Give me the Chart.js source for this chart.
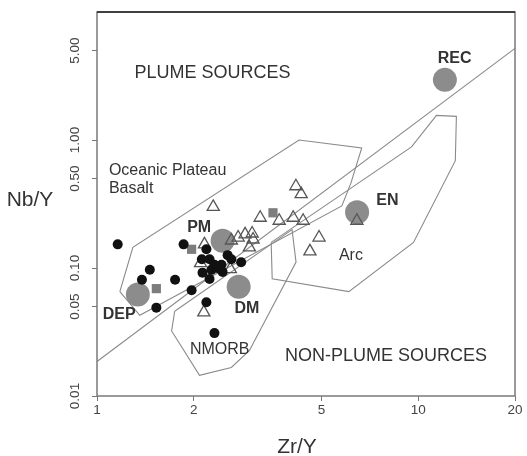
<!DOCTYPE html>
<html>
<head>
<meta charset="utf-8">
<script src="https://cdn.jsdelivr.net/npm/chart.js@4.4.1/dist/chart.umd.min.js"></script>
<style>
  html, body { margin: 0; padding: 0; background: #fff; }
</style>
</head>
<body>
<canvas id="myChart" width="527" height="456"></canvas>
<script>
// axis ticks
const xTicks = [1, 2, 5, 10, 20];
const yTicks = [0.01, 0.05, 0.1, 0.5, 1, 5];
const yTickLabels = ['0.01', '0.05', '0.10', '0.50', '1.00', '5.00'];

// basalt samples (filled circles)
const basaltZr = [1.16, 1.46, 1.38, 1.75, 1.86, 1.53, 1.97, 2.19, 2.32, 2.19, 2.12, 2.24, 2.55, 2.32, 2.44, 2.13, 2.27, 2.46, 2.62, 2.81, 2.24, 2.37];
const basaltNb = [0.153, 0.097, 0.081, 0.081, 0.153, 0.049, 0.067, 0.054, 0.031, 0.140, 0.117, 0.117, 0.126, 0.106, 0.106, 0.092, 0.097, 0.093, 0.117, 0.111, 0.082, 0.100];

// grey squares
const squareZr = [1.97, 1.53, 3.53];
const squareNb = [0.140, 0.069, 0.270];

// open triangles
const triZr = [2.30, 2.16, 2.62, 2.75, 2.89, 3.04, 2.98, 2.60, 2.10, 2.15, 3.22, 3.69, 4.08, 4.38, 4.16, 4.32, 4.91, 4.60, 6.44, 3.06];
const triNb = [0.300, 0.153, 0.164, 0.173, 0.183, 0.186, 0.145, 0.098, 0.109, 0.045, 0.247, 0.234, 0.247, 0.234, 0.435, 0.378, 0.173, 0.135, 0.234, 0.167];

// mantle components (big grey circles)
const sourceNames = ['DEP', 'PM', 'DM', 'EN', 'REC'];
const sourceZr = [1.34, 2.46, 2.76, 6.45, 12.1];
const sourceNb = [0.062, 0.163, 0.0714, 0.273, 2.95];

// plume / non-plume boundary
const lineZr = [1, 20];
const lineNb = [0.0186, 5.2];

// fields
const opbZr = [1.178, 1.293, 4.255, 6.668, 6.166, 5.782, 1.359, 1.178];
const opbNb = [0.0654, 0.1451, 1.0, 0.868, 0.4585, 0.3052, 0.0427, 0.0654];
const morbZr = [1.745, 4.047, 4.164, 2.979, 2.619, 2.085, 1.707, 1.745];
const morbNb = [0.0459, 0.1995, 0.1112, 0.0226, 0.0167, 0.0145, 0.0322, 0.0459];
const arcZr = [3.484, 9.528, 11.39, 13.14, 13.04, 9.663, 6.079, 3.510, 3.484];
const arcNb = [0.1585, 0.8836, 1.557, 1.530, 0.6895, 0.1585, 0.0654, 0.0823, 0.1585];

// text placed on the diagram (data coordinates)
const notes = [
    { text: 'PLUME SOURCES', x: 2.29, y: 3.34, bold: false, size: 18, align: 'center' },
    { text: 'NON-PLUME SOURCES', x: 7.94, y: 0.0207, bold: false, size: 18, align: 'center' },
    { text: 'Oceanic Plateau', x: 1.089, y: 0.580, bold: false, size: 16, align: 'left' },
    { text: 'Basalt', x: 1.089, y: 0.4147, bold: false, size: 16, align: 'left' },
    { text: 'NMORB', x: 2.41, y: 0.0230, bold: false, size: 16, align: 'center' },
    { text: 'Arc', x: 6.17, y: 0.1252, bold: false, size: 16, align: 'center' },
    { text: 'PM', x: 2.08, y: 0.2067, bold: true, size: 16, align: 'center' },
    { text: 'DEP', x: 1.172, y: 0.0433, bold: true, size: 16, align: 'center' },
    { text: 'DM', x: 2.93, y: 0.0486, bold: true, size: 16, align: 'center' },
    { text: 'EN', x: 8.01, y: 0.3378, bold: true, size: 16, align: 'center' },
    { text: 'REC', x: 12.98, y: 4.328, bold: true, size: 16, align: 'center' }
];

const FONT = '"Liberation Sans", Arial, sans-serif';
const pts = (xs, ys) => xs.map((x, i) => ({ x: x, y: ys[i] }));

const outline = (label, xs, ys) => ({
    label: label,
    data: pts(xs, ys),
    showLine: true,
    borderColor: '#8a8a8a',
    borderWidth: 1.1,
    pointRadius: 0,
    fill: false,
    tension: 0,
    order: 5
});

const decorPlugin = {
    id: 'decor',
    afterDatasetsDraw(chart) {
        const ctx = chart.ctx;
        const xs = chart.scales.x, ys = chart.scales.y;
        ctx.save();
        ctx.fillStyle = '#333';
        ctx.textBaseline = 'middle';
        notes.forEach(n => {
            ctx.font = (n.bold ? 'bold ' : '') + n.size + 'px ' + FONT;
            ctx.textAlign = n.align;
            ctx.fillText(n.text, xs.getPixelForValue(n.x), ys.getPixelForValue(n.y));
        });
        ctx.restore();
    },
    afterDraw(chart) {
        const ctx = chart.ctx;
        const a = chart.chartArea;
        const ys = chart.scales.y;
        ctx.save();
        // frame
        ctx.strokeStyle = '#7a7a7a';
        ctx.lineWidth = 1.5;
        ctx.strokeRect(a.left, a.top, a.right - a.left, a.bottom - a.top);
        ctx.strokeStyle = '#222';
        ctx.beginPath();
        ctx.moveTo(a.left, a.top);
        ctx.lineTo(a.right, a.top);
        ctx.stroke();
        // y tick labels, rotated
        ctx.fillStyle = '#444';
        ctx.font = '13.5px ' + FONT;
        ctx.textAlign = 'center';
        ctx.textBaseline = 'middle';
        yTicks.forEach((v, i) => {
            ctx.save();
            ctx.translate(75, ys.getPixelForValue(v));
            ctx.rotate(-Math.PI / 2);
            ctx.fillText(yTickLabels[i], 0, 0);
            ctx.restore();
        });
        // axis titles
        ctx.fillStyle = '#333';
        ctx.font = '21px ' + FONT;
        ctx.fillText('Nb/Y', 30, 200);
        ctx.fillText('Zr/Y', (a.left + a.right) / 2 - 9, 447);
        ctx.restore();
    }
};

const ctx = document.getElementById('myChart');
new Chart(ctx, {
    type: 'scatter',
    data: {
        datasets: [
            {
                label: 'basalts',
                data: pts(basaltZr, basaltNb),
                pointRadius: 5,
                backgroundColor: '#111',
                borderWidth: 0,
                order: 1
            },
            {
                label: 'squares',
                data: pts(squareZr, squareNb),
                pointStyle: 'rect',
                pointRadius: 6.5,
                backgroundColor: '#7d7d7d',
                borderWidth: 0,
                order: 2
            },
            {
                label: 'triangles',
                data: pts(triZr, triNb),
                pointStyle: 'triangle',
                pointRadius: 7,
                backgroundColor: 'rgba(0,0,0,0)',
                borderColor: '#555',
                borderWidth: 1.3,
                order: 3
            },
            {
                label: 'sources',
                data: pts(sourceZr, sourceNb),
                pointRadius: 12,
                backgroundColor: '#8c8c8c',
                borderWidth: 0,
                order: 4
            },
            outline('boundary', lineZr, lineNb),
            outline('OPB', opbZr, opbNb),
            outline('NMORB', morbZr, morbNb),
            outline('Arc', arcZr, arcNb)
        ]
    },
    options: {
        responsive: false,
        devicePixelRatio: 1,
        animation: false,
        events: [],
        layout: { padding: { top: 7, right: 10, left: 0, bottom: 0 } },
        plugins: {
            legend: { display: false },
            tooltip: { enabled: false }
        },
        scales: {
            x: {
                type: 'logarithmic',
                min: 1,
                max: 20,
                afterFit: s => { s.height = 60; },
                afterBuildTicks: s => { s.ticks = xTicks.map(v => ({ value: v })); },
                ticks: {
                    autoSkip: false,
                    maxRotation: 0,
                    padding: 1,
                    color: '#444',
                    font: { family: FONT, size: 13.5 },
                    callback: v => String(v)
                },
                grid: { drawOnChartArea: false, drawTicks: true, tickLength: 5, color: '#777' },
                border: { display: false }
            },
            y: {
                type: 'logarithmic',
                min: 0.01,
                max: 10,
                afterFit: s => { s.width = 97; },
                afterBuildTicks: s => { s.ticks = yTicks.map(v => ({ value: v })); },
                ticks: { display: false },
                grid: { drawOnChartArea: false, drawTicks: true, tickLength: 5, color: '#777' },
                border: { display: false }
            }
        }
    },
    plugins: [decorPlugin]
});
</script>
</body>
</html>
